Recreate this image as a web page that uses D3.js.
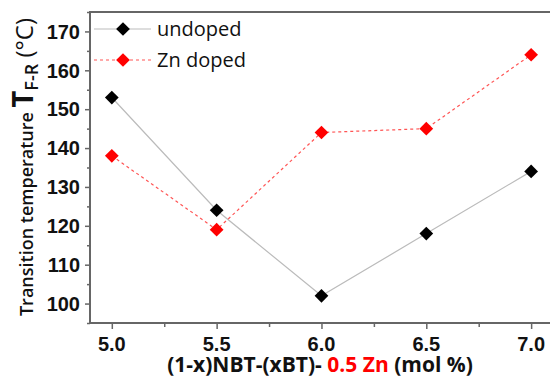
<!DOCTYPE html>
<html>
<head>
<meta charset="utf-8">
<script src="https://cdn.jsdelivr.net/npm/d3@7"></script>
<style>
  body { margin: 0; background: #fff; }
  svg { display: block; font-family: "Open Sans", "DejaVu Sans", sans-serif; }
</style>
</head>
<body>
<svg id="chart" width="550" height="381"></svg>
<script>
// data
const compositions = [5.0, 5.5, 6.0, 6.5, 7.0];
const undoped = [153, 124, 102, 118, 134];
const znDoped = [138, 119, 144, 145, 164];
const xTicks = [5.0, 5.5, 6.0, 6.5, 7.0];
const yTicks = [100, 110, 120, 130, 140, 150, 160, 170];
const seriesNames = ['undoped', 'Zn doped'];

const width = 550, height = 381;
const margin = { top: 12, right: 0, bottom: 58, left: 90 };
const svg = d3.select('#chart');

const x = d3.scaleLinear().domain([4.896, 7.09]).range([margin.left, width - margin.right]);
const y = d3.scaleLinear().domain([95, 175]).range([height - margin.bottom, margin.top]);

const axisColor = '#666';

// top frame line
svg.append('line')
  .attr('x1', margin.left).attr('x2', width)
  .attr('y1', margin.top).attr('y2', margin.top)
  .attr('stroke', axisColor).attr('stroke-width', 2);

// x axis
const xAxis = svg.append('g')
  .attr('transform', `translate(0, ${height - margin.bottom})`);
xAxis.call(d3.axisBottom(x).tickValues(d3.range(5.0, 7.01, 0.25)).tickSize(6).tickFormat(''));
xAxis.selectAll('.tick line').attr('stroke', axisColor).attr('stroke-width', 1.5)
  .attr('y2', (d, i) => i % 2 === 0 ? 6 : 4);
xAxis.select('.domain').remove();
xAxis.append('line').attr('x1', margin.left).attr('x2', width)
  .attr('stroke', axisColor).attr('stroke-width', 2);
xAxis.selectAll('.xlab')
  .data(xTicks)
  .enter().append('text')
  .attr('x', d => x(d)).attr('y', 28)
  .attr('text-anchor', 'middle')
  .attr('font-size', 20).attr('font-weight', 'bold').attr('fill', '#111')
  .text(d => d.toFixed(1));

// y axis
const yAxis = svg.append('g')
  .attr('transform', `translate(${margin.left}, 0)`);
yAxis.call(d3.axisLeft(y).tickValues(d3.range(95, 176, 5)).tickFormat(''));
yAxis.selectAll('.tick line').attr('stroke', axisColor).attr('stroke-width', 1.5)
  .attr('x2', d => d % 10 === 0 ? -5 : -3);
yAxis.select('.domain').remove();
yAxis.append('line').attr('y1', margin.top - 1).attr('y2', height - margin.bottom + 1)
  .attr('stroke', axisColor).attr('stroke-width', 2);
yAxis.selectAll('.ylab')
  .data(yTicks)
  .enter().append('text')
  .attr('x', -10).attr('y', d => y(d))
  .attr('dy', '0.36em')
  .attr('text-anchor', 'end')
  .attr('font-size', 20).attr('font-weight', 'bold').attr('fill', '#111')
  .text(d => d);

// lines
const line = d3.line().x((d, i) => x(compositions[i])).y(d => y(d));
svg.append('path').datum(undoped)
  .attr('d', line).attr('fill', 'none')
  .attr('stroke', '#bbb').attr('stroke-width', 1.2);
svg.append('path').datum(znDoped)
  .attr('d', line).attr('fill', 'none')
  .attr('stroke', '#f55').attr('stroke-width', 1.2).attr('stroke-dasharray', '3,3');

// diamond markers
const diamond = d3.symbol().type(d3.symbolDiamond2).size(120);
function markers(data, color) {
  svg.append('g').selectAll('path')
    .data(data)
    .enter().append('path')
    .attr('d', diamond)
    .attr('transform', (d, i) => `translate(${x(compositions[i])}, ${y(d)})`)
    .attr('fill', color);
}
markers(undoped, '#000');
markers(znDoped, '#f00');

// legend
const legend = svg.append('g');
const legendRows = [
  { name: seriesNames[0], color: '#000', stroke: '#bbb', dash: null, y: 29 },
  { name: seriesNames[1], color: '#f00', stroke: '#f55', dash: '3,3', y: 60 }
];
legendRows.forEach(r => {
  legend.append('line')
    .attr('x1', 94).attr('x2', 151).attr('y1', r.y).attr('y2', r.y)
    .attr('stroke', r.stroke).attr('stroke-width', 1.2)
    .attr('stroke-dasharray', r.dash);
  legend.append('path')
    .attr('d', diamond)
    .attr('transform', `translate(123, ${r.y})`)
    .attr('fill', r.color);
  legend.append('text')
    .attr('x', 157).attr('y', r.y).attr('dy', '0.35em')
    .attr('font-size', 20).attr('fill', '#111')
    .text(r.name);
});

// x axis title
const xTitle = svg.append('text')
  .attr('x', 320).attr('y', 372)
  .attr('text-anchor', 'middle')
  .attr('font-size', 21).attr('font-weight', 'bold').attr('fill', '#111');
xTitle.append('tspan').text('(1-x)NBT-(xBT)- ');
xTitle.append('tspan').attr('fill', '#f00').text('0.5 Zn');
xTitle.append('tspan').text(' (mol %)');

// y axis title
const yTitle = svg.append('text')
  .attr('transform', 'translate(33, 167) rotate(-90)')
  .attr('text-anchor', 'middle')
  .attr('fill', '#111');
yTitle.append('tspan').attr('font-size', 18).attr('font-weight', 600).text('Transition temperature ');
yTitle.append('tspan').attr('font-size', 29).attr('font-weight', 'bold').text('T');
yTitle.append('tspan').attr('font-size', 18).attr('font-weight', 600).attr('dy', 5).text('F-R');
yTitle.append('tspan').attr('font-size', 24).attr('dy', -5).text(' (°C)');
</script>
</body>
</html>
